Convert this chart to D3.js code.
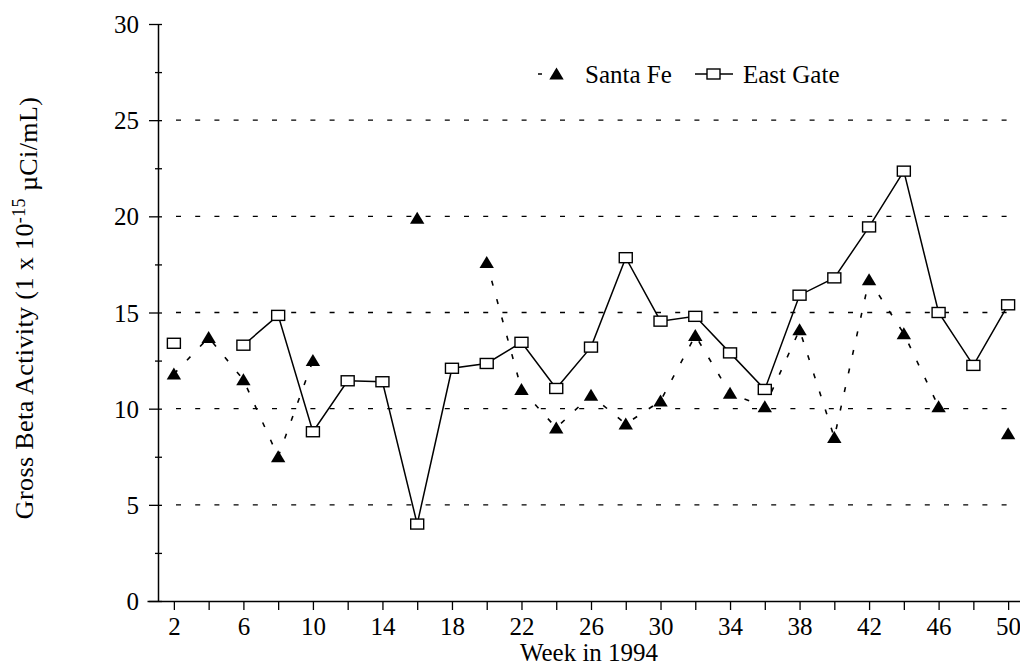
<!DOCTYPE html>
<html>
<head>
<meta charset="utf-8">
<script src="https://cdn.jsdelivr.net/npm/d3@7"></script>
<style>
  html, body { margin: 0; padding: 0; background: #fff; }
  svg { display: block; }
</style>
</head>
<body>
<svg id="chart" width="1020" height="666"></svg>
<script>
// ---- data ----
const weeks = [2, 4, 6, 8, 10, 12, 14, 16, 18, 20, 22, 24, 26, 28, 30, 32, 34, 36, 38, 40, 42, 44, 46, 48, 50];
const santaFe = [11.8, 13.7, 11.5, 7.5, 12.5, null, null, 19.9, null, 17.6, 11.0, 9.0, 10.7, 9.2, 10.4, 13.8, 10.8, 10.1, 14.1, 8.5, 16.7, 13.9, 10.1, null, 8.7];
const eastGate = [13.4, null, 13.3, 14.85, 8.8, 11.45, 11.4, 4.0, 12.1, 12.35, 13.45, 11.05, 13.2, 17.85, 14.55, 14.8, 12.9, 11.0, 15.9, 16.8, 19.45, 22.35, 15.0, 12.25, 15.4];
const seriesNames = ["Santa Fe", "East Gate"];
const yTickValues = [0, 5, 10, 15, 20, 25, 30];
const yMinorTicks = [2.5, 7.5, 12.5, 17.5, 22.5, 27.5];
const xTickValues = weeks;
const xLabeled = [2, 6, 10, 14, 18, 22, 26, 30, 34, 38, 42, 46, 50];
const gridValues = [5, 10, 15, 20, 25];
const xTitle = "Week in 1994";

const FONT = "'Liberation Serif', 'Times New Roman', 'DejaVu Serif', serif";
const svg = d3.select("#chart").attr("font-family", FONT);
const x = d3.scaleLinear().domain([1, 51]).range([156.5, 1025.5]);
const y = d3.scaleLinear().domain([0, 30]).range([601, 24]);
const fontSize = 25;

function styleText(sel, size) {
  sel.attr("font-family", FONT).style("font-family", FONT).style("font-size", size + "px").attr("fill", "#000");
}

// grid
svg.append("g").selectAll("line").data(gridValues).join("line")
  .attr("x1", 176).attr("x2", 1020)
  .attr("y1", d => y(d)).attr("y2", d => y(d))
  .attr("stroke", "#000").attr("stroke-width", 1.3)
  .attr("stroke-dasharray", "5,14.2");

// y axis
const yAxis = svg.append("g").attr("transform", `translate(${x(1) + 1.5},0)`)
  .call(d3.axisLeft(y).tickValues(yTickValues).tickSize(9).tickPadding(10).tickSizeOuter(0));
yAxis.attr("font-family", FONT);
yAxis.select(".domain").attr("stroke-width", 1.5);
yAxis.selectAll(".tick line").attr("x1", 4).attr("stroke-width", 1.3);
yAxis.selectAll(".tick text").call(styleText, fontSize).attr("dy", "0.34em");
const yMinor = svg.append("g").attr("transform", `translate(${x(1) + 1.5},0)`)
  .call(d3.axisLeft(y).tickValues(yMinorTicks).tickSize(3).tickFormat(""));
yMinor.select(".domain").remove();
yMinor.selectAll(".tick line").attr("x1", 4).attr("stroke-width", 1.3);

// x axis
const xAxis = svg.append("g").attr("transform", `translate(0,${y(0)})`)
  .call(d3.axisBottom(x).tickValues(xTickValues).tickSize(9).tickPadding(7).tickSizeOuter(0)
    .tickFormat(d => xLabeled.includes(d) ? d : ""));
xAxis.attr("font-family", FONT);
xAxis.select(".domain").attr("d", `M${x(1) - 9},0.5H1020`).attr("stroke-width", 1.5);
xAxis.selectAll(".tick line").attr("stroke-width", 1.3);
xAxis.selectAll(".tick text").call(styleText, fontSize);

// axis titles
svg.append("text").attr("x", 589).attr("y", 661).attr("text-anchor", "middle")
  .call(styleText, 25).text(xTitle);
const yt = svg.append("text").attr("transform", "translate(33,308) rotate(-90)")
  .attr("text-anchor", "middle").call(styleText, 26).style("letter-spacing", "0.4px");
yt.append("tspan").text("Gross Beta Activity (1 x 10");
yt.append("tspan").attr("dy", "-0.45em").style("font-size", "18px").text("-15");
yt.append("tspan").attr("dy", "0.45em").text(" \u00B5Ci/mL)");

// lines
const sfData = weeks.map((w, i) => ({ w, v: santaFe[i] }));
const egData = weeks.map((w, i) => ({ w, v: eastGate[i] }));
const line = d3.line().defined(d => d.v != null).x(d => x(d.w)).y(d => y(d.v));

svg.append("path").datum(sfData).attr("d", line)
  .attr("fill", "none").attr("stroke", "#000").attr("stroke-width", 1.6)
  .attr("stroke-dasharray", "5,14");
svg.append("path").datum(egData).attr("d", line)
  .attr("fill", "none").attr("stroke", "#000").attr("stroke-width", 1.5);

// markers
const tri = "M0,-6.5L7.2,5.5L-7.2,5.5Z";
svg.append("g").selectAll("path").data(sfData.filter(d => d.v != null)).join("path")
  .attr("d", tri).attr("transform", d => `translate(${x(d.w)},${y(d.v)})`)
  .attr("fill", "#000");
svg.append("g").selectAll("rect").data(egData.filter(d => d.v != null)).join("rect")
  .attr("x", d => x(d.w) - 6.5).attr("y", d => y(d.v) - 5)
  .attr("width", 13).attr("height", 10)
  .attr("fill", "#fff").attr("stroke", "#000").attr("stroke-width", 1.4);

// legend
const lg = svg.append("g");
lg.append("line").attr("x1", 538).attr("x2", 562).attr("y1", 74).attr("y2", 74)
  .attr("stroke", "#000").attr("stroke-width", 1.6).attr("stroke-dasharray", "4,14");
lg.append("path").attr("d", tri).attr("transform", "translate(556.5,74)").attr("fill", "#000");
lg.append("text").attr("x", 585).attr("y", 83).call(styleText, fontSize).text(seriesNames[0]);
lg.append("line").attr("x1", 695).attr("x2", 733).attr("y1", 74).attr("y2", 74)
  .attr("stroke", "#000").attr("stroke-width", 1.5);
lg.append("rect").attr("x", 707).attr("y", 69).attr("width", 13).attr("height", 10)
  .attr("fill", "#fff").attr("stroke", "#000").attr("stroke-width", 1.4);
lg.append("text").attr("x", 743).attr("y", 83).call(styleText, fontSize).text(seriesNames[1]);
</script>
</body>
</html>
